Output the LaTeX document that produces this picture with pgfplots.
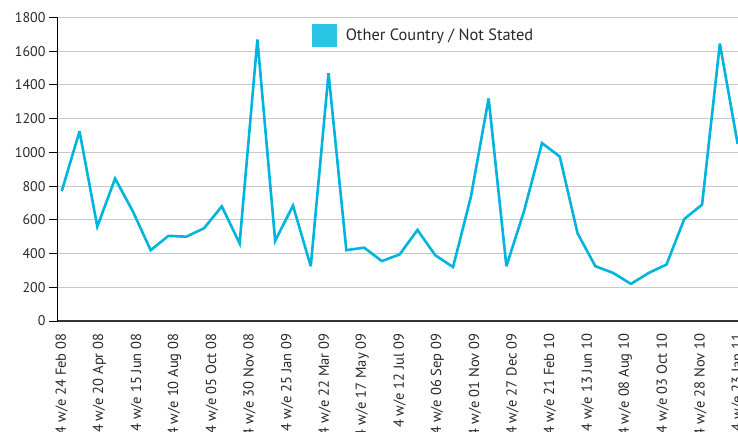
\documentclass[border=0pt]{standalone}
\usepackage{fontspec}
\setmainfont{PT Sans}
\usepackage{pgfplots}
\pgfplotsset{compat=1.18}
\definecolor{linecol}{RGB}{0,180,222}
\definecolor{legcol}{RGB}{44,196,230}
\definecolor{gridcol}{RGB}{200,200,200}
\definecolor{txtcol}{RGB}{40,40,40}
\begin{document}
\begin{tikzpicture}
\begin{axis}[
  scale only axis,
  width=680pt, height=303.5pt,
  xmin=-0.21, xmax=38.02,
  ymin=0, ymax=1800,
  axis x line*=bottom, axis y line*=left,
  x axis line style={-, draw=black!80, line width=1.2pt},
  y axis line style={-, draw=black, line width=1pt},
  ytick={0,200,...,1800},
  tick align=outside,
  major tick length=9pt,
  ytick style={draw=black, line width=1pt},
  xtick style={draw=none},
  ymajorgrids,
  grid style={draw=gridcol, line width=1pt},
  /pgf/number format/assume math mode=true,
  /pgf/number format/set thousands separator={},
  yticklabel style={font=\fontsize{14}{14}\selectfont, text=txtcol},
  xtick={0,2.112,4.224,6.336,8.448,10.56,12.672,14.784,16.896,19.008,21.12,23.232,25.344,27.456,29.568,31.68,33.792,35.904,38.0},
  xticklabels={4 w/e 24 Feb 08,4 w/e 20 Apr 08,4 w/e 15 Jun 08,4 w/e 10 Aug 08,4 w/e 05 Oct 08,4 w/e 30 Nov 08,4 w/e 25 Jan 09,4 w/e 22 Mar 09,4 w/e 17 May 09,4 w/e 12 Jul 09,4 w/e 06 Sep 09,4 w/e 01 Nov 09,4 w/e 27 Dec 09,4 w/e 21 Feb 10,4 w/e 13 Jun 10,4 w/e 08 Aug 10,4 w/e 03 Oct 10,4 w/e 28 Nov 10,4 w/e 23 Jan 11},
  xticklabel style={rotate=90, anchor=east, font=\fontsize{14.5}{14.5}\selectfont, text=txtcol},
  legend style={draw=none, fill=none, inner sep=0pt, anchor=west,
    at={(axis description cs:0.3735,0.9407)},
    column sep=9pt, nodes={inner sep=0pt},
    font=\fontsize{16.4}{16.4}\selectfont, text=txtcol},
  legend image code/.code={\fill[legcol] (0pt,-10.5pt) rectangle (22pt,10.5pt);},
]
\addplot[linecol, line width=2.6pt, line join=miter, miter limit=4] coordinates {
(0,770) (1,1125) (2,560) (3,845) (4,650) (5,420) (6,505) (7,500) (8,550) (9,680)
(10,460) (11,1670) (12,475) (13,685) (14,325) (15,1470) (16,420) (17,435) (18,355) (19,395)
(20,540) (21,390) (22,320) (23,735) (24,1320) (25,325) (26,655) (27,1055) (28,975) (29,520)
(30,325) (31,285) (32,220) (33,285) (34,335) (35,605) (36,690) (37,1645) (38,1050)
};
\addlegendentry{Other Country / Not Stated}
\end{axis}
\pgfresetboundingbox
\path[use as bounding box] ([shift={(-58pt,-111pt)}]current axis.south west) rectangle ([shift={(0pt,17.5pt)}]current axis.north east);
\end{tikzpicture}
\end{document}
